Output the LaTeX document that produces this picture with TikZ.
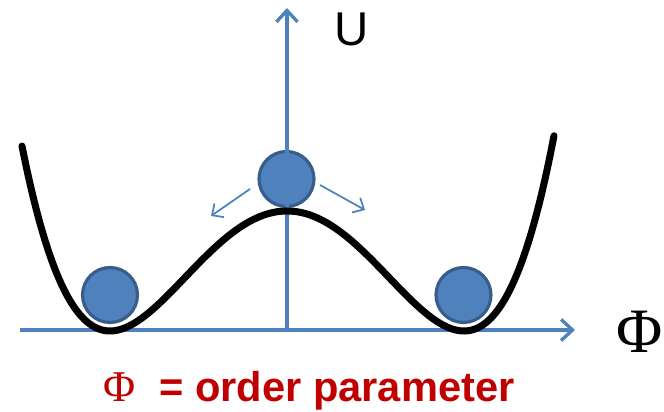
\documentclass[tikz,border=0pt]{standalone}
\usepackage{fontspec}
\setmainfont{Liberation Sans}
\newfontfamily\phifont{Liberation Serif}
\usetikzlibrary{arrows.meta}
\definecolor{axisblue}{RGB}{79,129,189}
\definecolor{balledge}{RGB}{56,93,138}
\definecolor{labelred}{RGB}{192,0,0}
\tikzset{
  dw axis/.style={axisblue,line width=1.9pt,-{Straight Barb[length=6.5pt,width=12pt]}},
  dw curve/.style={black,line width=4pt,line cap=round},
  dw ball/.style={circle,draw=balledge,fill=axisblue,line width=1.8pt,
    inner sep=0pt,minimum size=1.1cm},
  dw nudge/.style={axisblue,line width=1pt,-{Straight Barb[length=5pt,width=9.5pt]}}
}

\begin{document}
\begin{tikzpicture}[x=0.02cm,y=0.02cm]
  \useasboundingbox (0,0) rectangle (664,412);
  % balls
  \node[dw ball] (top ball) at (286.5,233) {};
  \node[dw ball] (left ball) at (110,117) {};
  \node[dw ball] (right ball) at (463.5,117) {};
  % axes
  \coordinate (o) at (287,82);
  \coordinate (phi end) at (575,82);
  \coordinate (phi start) at (20,82);
  \coordinate (u end) at (287,404);
  \draw[dw axis] (phi start)--(phi end);
  \draw[dw axis] (o)--(u end);
  \node[font=\fontsize{27}{30}\selectfont] (u label) at (352,383) {U};
  \node[font=\phifont\fontsize{36}{40}\selectfont] (phi label) at (640,80) {Φ};
  % potential
  \draw[dw curve] plot[domain=-265:267,samples=120,smooth]
    ({\x+287},{81+120*((\x/177)^2-1)^2});
  % rolling off the top
  \coordinate (roll l0) at (250,223);
  \coordinate (roll l) at (211,196);
  \coordinate (roll r0) at (320,227);
  \coordinate (roll r) at (365,202);
  \draw[dw nudge] (roll l0)--(roll l);
  \draw[dw nudge] (roll r0)--(roll r);
  \node[anchor=base west,text=labelred,font=\bfseries\fontsize{23.7}{27}\selectfont]
    (defn) at (97,10) {{\phifont\mdseries\fontsize{25}{27}\selectfont Φ}\hspace{0.48cm}= order parameter};
\end{tikzpicture}
\end{document}
